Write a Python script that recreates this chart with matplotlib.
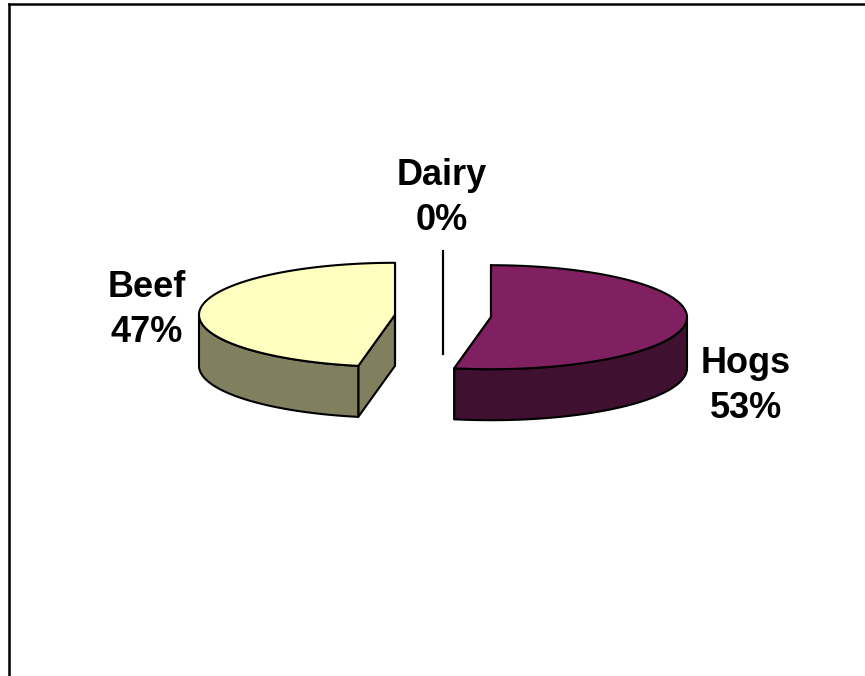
import numpy as np
import matplotlib
matplotlib.use('Agg')
import matplotlib.pyplot as plt
from matplotlib.patches import Polygon
from matplotlib.lines import Line2D

# data (clockwise from 12 o'clock)
categories = ['Hogs', 'Beef', 'Dairy']
values = [53, 47, 0]
top_colors = ['#802060', '#FFFFC0', '#9999FF']
side_colors = ['#401030', '#80805F', '#4C4C80']

# layout in pixels (figure is 865 x 676)
W, H = 865, 676
cx, cy = 443, 316      # pie centre
rx, ry = 196, 52       # ellipse radii of the top face
depth = 51             # thickness of the pie
explode = 0.246
label_pos = {'Hogs': (746, 386), 'Beef': (147, 310), 'Dairy': (442, 198)}


def rim(x0, y0, t):
    # t: clockwise angle from top in radians
    return np.column_stack([x0 + rx * np.sin(t), y0 - ry * np.cos(t)])


fig = plt.figure(figsize=(W / 100, H / 100), dpi=100)
ax = fig.add_axes([0, 0, 1, 1])
ax.set_xlim(0, W)
ax.set_ylim(H, 0)
ax.axis('off')

total = float(sum(values))
bounds = np.concatenate([[0], np.cumsum(values)]) / total * 2 * np.pi

slices = []
for i, name in enumerate(categories):
    t0, t1 = bounds[i], bounds[i + 1]
    mid = (t0 + t1) / 2
    x0 = cx + explode * rx * np.sin(mid)
    y0 = cy - explode * ry * np.cos(mid)
    slices.append((name, t0, t1, x0, y0, top_colors[i], side_colors[i]))

ec = 'black'
lw = 1.5

# cut faces first (hidden ones get covered later)
for name, t0, t1, x0, y0, ctop, cside in slices:
    for t in (t0, t1):
        p = rim(x0, y0, np.array([t]))[0]
        poly = [(x0, y0), tuple(p), (p[0], p[1] + depth), (x0, y0 + depth)]
        if t1 - t0 < 1e-9:
            ax.add_line(Line2D([x0, x0], [p[1], y0 + depth], color=ec, lw=lw))
        else:
            ax.add_patch(Polygon(poly, closed=True, fc=cside, ec=ec, lw=lw, joinstyle='round'))

# outer side walls (front half only)
for name, t0, t1, x0, y0, ctop, cside in slices:
    a0, a1 = max(t0, np.pi / 2), min(t1, 3 * np.pi / 2)
    if a1 - a0 > 1e-6:
        t = np.linspace(a0, a1, 120)
        up = rim(x0, y0, t)
        dn = up.copy()
        dn[:, 1] += depth
        ax.add_patch(Polygon(np.vstack([up, dn[::-1]]), closed=True, fc=cside, ec=ec, lw=lw,
                             joinstyle='round'))

# top faces
for name, t0, t1, x0, y0, ctop, cside in slices:
    if t1 - t0 < 1e-9:
        continue
    t = np.linspace(t0, t1, 240)
    pts = np.vstack([[x0, y0], rim(x0, y0, t)])
    ax.add_patch(Polygon(pts, closed=True, fc=ctop, ec=ec, lw=lw, joinstyle='round'))

# labels
for name, v in zip(categories, values):
    lx, ly = label_pos[name]
    ax.text(lx, ly, f'{name}\n{round(v / total * 100):.0f}%', ha='center', va='center',
            fontsize=26, fontweight='bold', family='Liberation Sans', linespacing=1.4)

# chart area border (top and left edges only are inside the picture)
ax.add_line(Line2D([8.5, W], [3.5, 3.5], color='black', lw=1.8, solid_capstyle='projecting'))
ax.add_line(Line2D([8.5, 8.5], [3.5, H], color='black', lw=1.8, solid_capstyle='projecting'))

fig.savefig('out.png', dpi=100)
